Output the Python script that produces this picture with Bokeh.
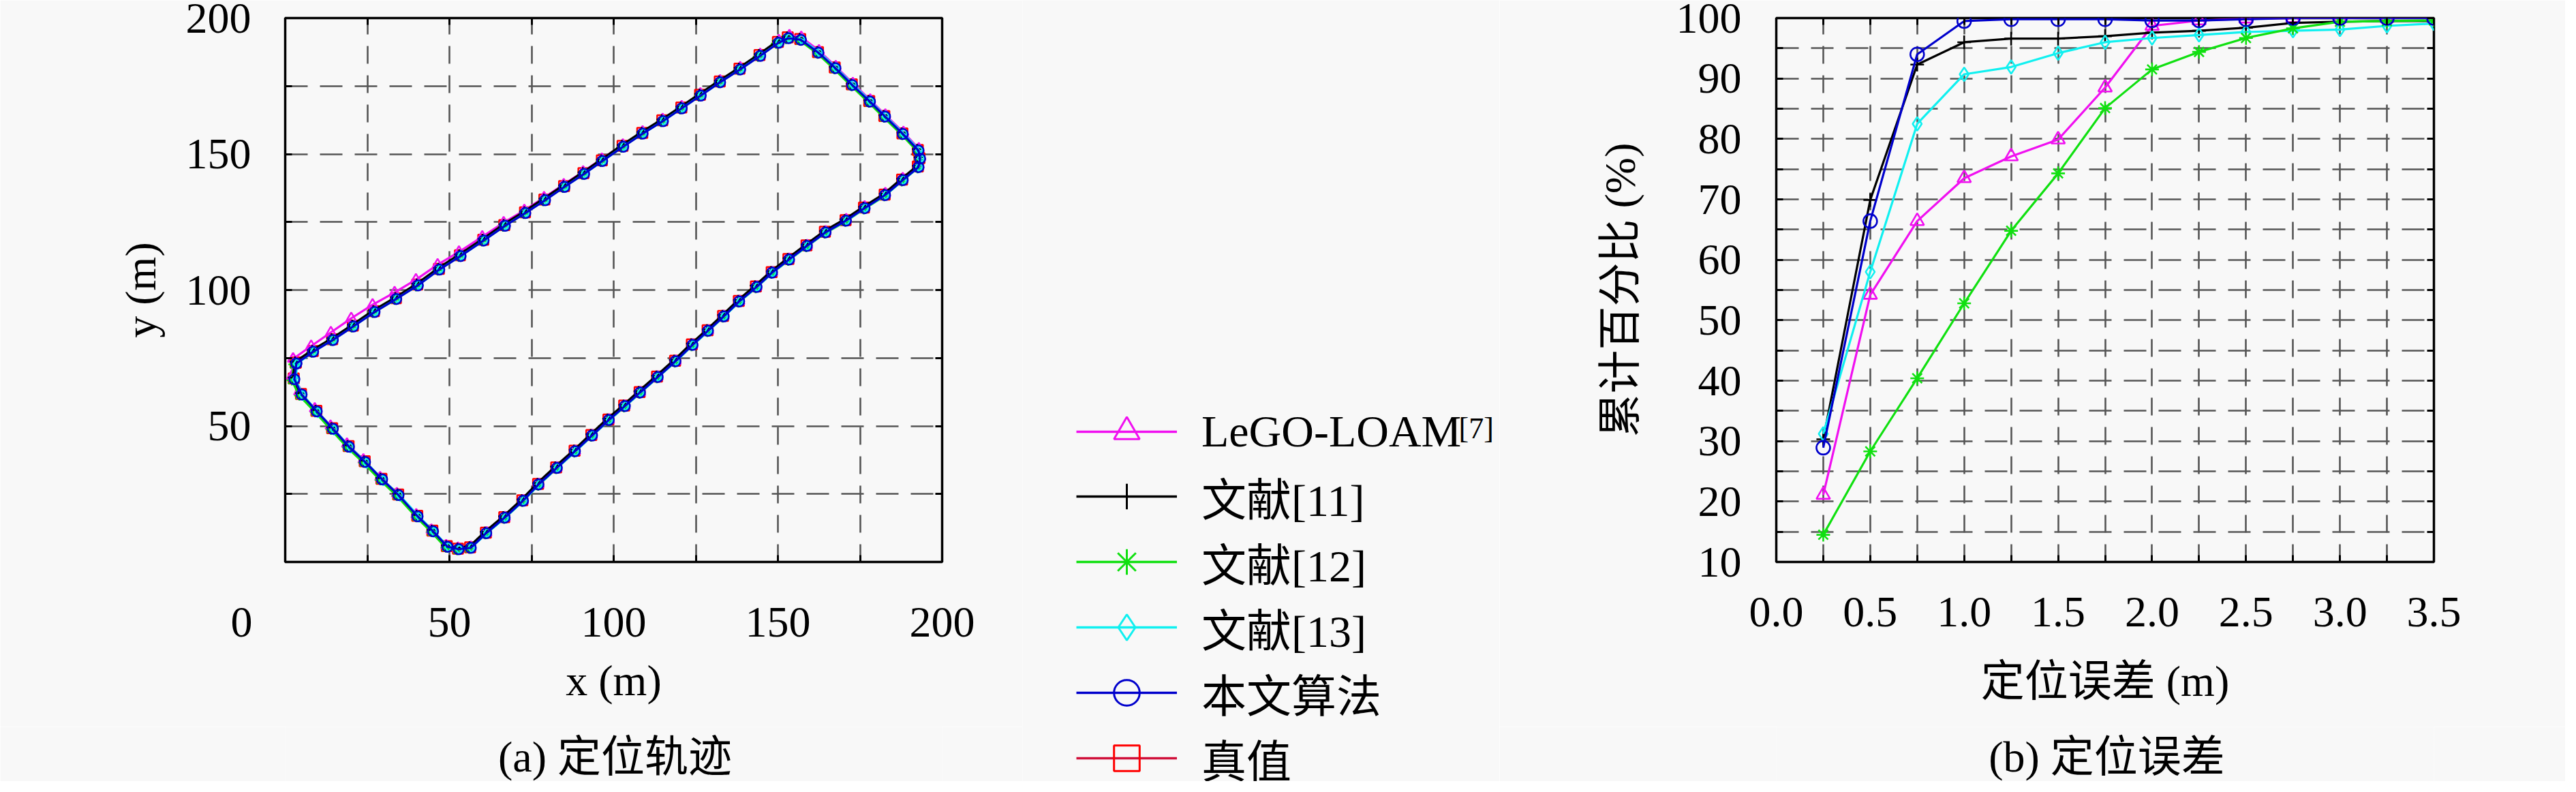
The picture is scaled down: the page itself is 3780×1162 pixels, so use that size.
from bokeh.plotting import figure
from bokeh.models import Range1d, FixedTicker, LinearAxis, Label, Legend, LegendItem
from bokeh.layouts import row, column
from bokeh.embed import file_html
from bokeh.resources import INLINE

# ---------------- data: (a) trajectories ----------------
truth_x = [3.2, 2.6, 4.8, 9.5, 14.3, 19.3, 24.2, 29.3, 34.4, 40.2, 44.8, 49.2, 52.6, 56.3, 61.1, 66.7, 72.2, 77.0, 82.5, 88.1,
           93.2, 98.4, 103.2, 107.9, 113.2, 118.7, 123.8, 128.6, 133.3, 138.1, 143.3, 148.1, 153.2, 158.7, 164.3, 170.6, 176.2,
           182.5, 187.8, 192.6, 193.1, 192.6, 187.9, 182.4, 177.8, 172.5, 167.3, 162.2, 156.8, 153.0, 150.0, 144.4, 138.3, 132.3,
           126.3, 120.6, 114.8, 108.7, 102.7, 96.4, 90.8, 84.9, 78.9, 73.0, 66.7, 60.3, 53.2, 46.8, 40.2, 33.7, 27.0, 20.6, 14.3,
           8.4, 3.2]
truth_y = [73.3, 67.5, 61.8, 55.6, 49.2, 42.6, 37.0, 30.6, 24.8, 17.0, 11.5, 5.8, 4.9, 5.4, 10.8, 16.5, 22.7, 28.7, 34.8, 40.9,
           46.7, 52.4, 57.5, 62.5, 68.2, 74.0, 80.0, 85.2, 90.5, 96.0, 101.3, 106.6, 111.4, 116.4, 121.4, 125.7, 130.3, 135.1,
           140.6, 145.4, 148.5, 151.5, 157.6, 164.0, 169.5, 175.6, 181.8, 187.5, 192.3, 192.9, 191.2, 186.4, 181.4, 176.7, 171.8,
           167.1, 162.4, 157.8, 153.0, 147.7, 143.0, 138.2, 133.3, 128.6, 123.9, 118.5, 112.8, 107.8, 102.0, 97.0, 92.2, 86.9,
           81.9, 77.6, 73.3]
lego_x = [2.4, 2.0, 4.2, 9.0, 13.8, 18.8, 23.8, 28.9, 34.0, 39.9, 44.5, 49.0, 52.6, 56.5, 61.3, 66.9, 72.4, 77.2, 82.7, 88.3,
          93.4, 98.6, 103.4, 108.1, 113.4, 118.9, 124.0, 128.8, 133.5, 138.3, 143.5, 148.3, 153.4, 158.9, 164.5, 170.8, 176.4,
          182.7, 188.0, 192.9, 193.4, 192.9, 188.2, 182.7, 178.1, 172.8, 167.6, 162.5, 157.1, 153.5, 150.3, 144.6, 138.5, 132.4,
          126.4, 120.7, 114.9, 108.8, 102.8, 96.4, 90.7, 84.8, 78.8, 72.8, 66.5, 60.0, 52.9, 46.4, 39.8, 33.3, 26.6, 20.1, 13.9,
          7.9, 2.4]
lego_y = [74.7, 68.3, 62.6, 56.4, 50.0, 43.4, 37.6, 31.1, 25.2, 17.4, 11.8, 6.1, 5.1, 5.5, 10.8, 16.4, 22.6, 28.6, 34.7, 40.8,
          46.6, 52.3, 57.4, 62.4, 68.1, 73.9, 79.9, 85.1, 90.4, 95.9, 101.2, 106.5, 111.4, 116.4, 121.5, 125.9, 130.6, 135.5,
          141.0, 145.9, 149.0, 152.0, 158.0, 164.4, 169.9, 176.0, 182.2, 188.0, 193.0, 193.6, 191.8, 186.7, 181.8, 177.0, 172.2,
          167.5, 162.8, 158.2, 153.4, 148.2, 143.5, 138.8, 134.0, 129.3, 124.8, 119.6, 114.0, 109.3, 103.8, 99.1, 94.6, 89.6,
          84.4, 79.4, 74.7]
ref11_x = [3.0, 2.4, 4.6, 9.3, 14.1, 19.0, 24.0, 29.0, 34.2, 40.0, 44.6, 49.0, 52.4, 56.1, 60.8, 66.4, 72.0, 76.8, 82.2, 87.9,
           93.0, 98.1, 103.0, 107.6, 113.0, 118.4, 123.6, 128.4, 133.1, 137.9, 143.0, 147.9, 153.0, 158.5, 164.1, 170.3, 176.0,
           182.3, 187.6, 192.4, 192.9, 192.4, 187.7, 182.2, 177.6, 172.3, 167.1, 162.0, 156.6, 152.8, 149.8, 144.2, 138.1, 132.1,
           126.1, 120.4, 114.6, 108.5, 102.5, 96.2, 90.6, 84.7, 78.7, 72.8, 66.5, 60.1, 53.0, 46.6, 40.0, 33.5, 26.8, 20.4, 14.1,
           8.2, 3.0]
ref11_y = [73.6, 67.8, 62.1, 55.9, 49.5, 42.9, 37.3, 30.9, 25.1, 17.3, 11.8, 6.1, 5.2, 5.7, 11.1, 16.8, 23.0, 29.0, 35.1, 41.2,
           47.0, 52.7, 57.8, 62.8, 68.5, 74.3, 80.3, 85.5, 90.8, 96.3, 101.6, 106.9, 111.7, 116.7, 121.7, 126.0, 130.6, 135.4,
           140.9, 145.7, 148.8, 151.8, 157.9, 164.3, 169.8, 175.9, 182.1, 187.8, 192.6, 193.2, 191.5, 186.7, 181.7, 177.0, 172.1,
           167.4, 162.7, 158.1, 153.3, 148.0, 143.3, 138.5, 133.6, 128.9, 124.2, 118.8, 113.1, 108.1, 102.3, 97.3, 92.5, 87.2,
           82.2, 77.9, 73.6]
ref12_x = [2.6, 2.0, 4.3, 9.1, 13.9, 18.9, 23.8, 28.9, 34.0, 39.9, 44.5, 48.9, 52.3, 56.0, 60.9, 66.6, 72.1, 77.0, 82.4, 88.0,
           93.1, 98.3, 103.1, 107.8, 113.1, 118.6, 123.7, 128.5, 133.2, 138.0, 143.2, 148.0, 153.1, 158.6, 164.2, 170.5, 176.1,
           182.4, 187.7, 192.5, 193.0, 192.5, 187.8, 182.3, 177.7, 172.4, 167.2, 162.1, 156.7, 152.4, 149.4, 143.9, 137.9, 131.9,
           125.9, 120.2, 114.4, 108.3, 102.3, 96.0, 90.4, 84.5, 78.5, 72.6, 66.3, 59.9, 52.8, 46.4, 39.8, 33.3, 26.6, 20.2, 13.9,
           8.0, 2.6]
ref12_y = [72.6, 66.8, 61.2, 55.1, 48.7, 42.1, 36.5, 30.1, 24.3, 16.5, 11.0, 5.3, 4.4, 4.9, 10.2, 15.9, 22.1, 28.1, 34.2, 40.3,
           46.1, 51.8, 56.9, 61.9, 67.6, 73.4, 79.4, 84.6, 89.9, 95.4, 100.7, 106.0, 110.8, 115.8, 120.8, 125.1, 129.7, 134.5,
           140.0, 144.8, 147.9, 150.9, 157.0, 163.4, 168.9, 175.0, 181.2, 186.9, 191.7, 192.3, 190.6, 185.8, 180.8, 176.1, 171.2,
           166.5, 161.8, 157.2, 152.4, 147.1, 142.4, 137.6, 132.7, 128.0, 123.3, 117.9, 112.2, 107.2, 101.4, 96.4, 91.6, 86.3,
           81.3, 77.0, 72.6]
ref13_x = [3.6, 3.2, 5.4, 10.0, 14.9, 19.9, 24.8, 29.9, 35.0, 40.8, 45.3, 49.7, 53.0, 56.7, 61.5, 67.1, 72.6, 77.4, 82.9, 88.5,
           93.6, 98.8, 103.6, 108.3, 113.6, 119.1, 124.2, 129.0, 133.7, 138.5, 143.7, 148.5, 153.6, 159.1, 164.7, 171.0, 176.6,
           182.9, 188.2, 193.0, 193.5, 193.0, 188.3, 182.8, 178.2, 172.9, 167.7, 162.6, 157.2, 153.4, 150.4, 144.8, 138.7, 132.7,
           126.7, 121.0, 115.2, 109.1, 103.1, 96.8, 91.2, 85.3, 79.3, 73.4, 67.1, 60.7, 53.6, 47.2, 40.6, 34.1, 27.4, 21.0, 14.7,
           8.8, 3.6]
ref13_y = [72.9, 67.0, 61.3, 55.0, 48.6, 42.0, 36.4, 30.0, 24.3, 16.6, 11.1, 5.5, 4.7, 5.3, 10.7, 16.4, 22.6, 28.6, 34.7, 40.8,
           46.6, 52.3, 57.4, 62.4, 68.1, 73.9, 79.9, 85.1, 90.4, 95.9, 101.2, 106.5, 111.3, 116.3, 121.3, 125.6, 130.2, 135.0,
           140.5, 145.3, 148.4, 151.4, 157.5, 163.9, 169.4, 175.5, 181.7, 187.4, 192.2, 192.8, 191.1, 186.3, 181.3, 176.6, 171.7,
           167.0, 162.3, 157.7, 152.9, 147.6, 142.9, 138.1, 133.2, 128.5, 123.8, 118.4, 112.7, 107.7, 101.9, 96.9, 92.1, 86.8,
           81.8, 77.5, 72.9]
ours_x = [3.4, 2.8, 5.0, 9.6, 14.5, 19.4, 24.3, 29.5, 34.5, 40.3, 45.0, 49.4, 52.8, 56.5, 61.2, 66.8, 72.4, 77.1, 82.7, 88.2,
          93.4, 98.5, 103.4, 108.0, 113.4, 118.8, 124.0, 128.7, 133.5, 138.2, 143.5, 148.2, 153.4, 158.8, 164.5, 170.7, 176.4,
          182.6, 188.0, 192.8, 193.3, 192.8, 188.0, 182.6, 178.0, 172.6, 167.5, 162.3, 157.0, 153.2, 150.2, 144.6, 138.5, 132.4,
          126.5, 120.7, 115.0, 108.8, 102.9, 96.5, 91.0, 85.0, 79.1, 73.1, 66.9, 60.4, 53.4, 46.9, 40.4, 33.8, 27.2, 20.7, 14.5,
          8.5, 3.4]
ours_y = [73.0, 67.2, 61.6, 55.4, 49.0, 42.4, 36.8, 30.4, 24.6, 16.8, 11.3, 5.6, 4.7, 5.2, 10.6, 16.3, 22.5, 28.5, 34.6, 40.7,
          46.5, 52.2, 57.3, 62.3, 68.0, 73.8, 79.8, 85.0, 90.3, 95.8, 101.1, 106.4, 111.2, 116.2, 121.2, 125.5, 130.1, 134.9,
          140.4, 145.2, 148.3, 151.3, 157.4, 163.8, 169.3, 175.4, 181.6, 187.3, 192.0, 192.6, 190.9, 186.1, 181.1, 176.4, 171.5,
          166.8, 162.1, 157.5, 152.7, 147.4, 142.7, 137.9, 133.0, 128.3, 123.6, 118.2, 112.5, 107.5, 101.7, 96.7, 91.9, 86.6,
          81.6, 77.3, 73.0]

# ---------------- data: (b) cumulative error ----------------
err_x = [0.25, 0.5, 0.75, 1.0, 1.25, 1.5, 1.75, 2.0, 2.25, 2.5, 2.75, 3.0, 3.25, 3.5]
lego_cdf = [21.1, 54.2, 66.4, 73.5, 77.1, 79.9, 88.5, 98.7, 99.6, 99.9, 100.0, 100.0, 100.0, 100.0]
ref11_cdf = [30.3, 69.9, 92.3, 96.0, 96.6, 96.6, 97.0, 97.6, 97.9, 98.4, 99.2, 99.4, 99.5, 99.5]
ref12_cdf = [14.5, 28.3, 40.4, 52.8, 64.8, 74.3, 85.1, 91.5, 94.4, 96.7, 98.3, 99.4, 99.5, 99.6]
ref13_cdf = [31.2, 58.0, 82.5, 90.7, 91.9, 94.2, 96.0, 96.7, 97.2, 97.7, 97.9, 98.1, 98.7, 99.1]
ours_cdf = [28.9, 66.4, 94.0, 99.5, 99.8, 99.8, 99.8, 99.6, 99.6, 99.8, 100.0, 100.0, 100.0, 100.0]

series_names = ["LeGO-LOAM", "文献[11]", "文献[12]", "文献[13]", "本文算法", "真值"]

# ticks and tick labels
NB = "\u00a0"
traj_ticks = [0, 25, 50, 75, 100, 125, 150, 175, 200]
traj_x_labels = ["0" + NB * 8, "", "50", "", "100", "", "150", "", "200"]
traj_y_labels = ["", "", "50", "", "100", "", "150", "", "200"]
err_ticks = [0.0, 0.25, 0.5, 0.75, 1.0, 1.25, 1.5, 1.75, 2.0, 2.25, 2.5, 2.75, 3.0, 3.25, 3.5]
err_tick_labels = ["0.0", "", "0.5", "", "1.0", "", "1.5", "", "2.0", "", "2.5", "", "3.0", "", "3.5"]
pct_ticks = [10, 15, 20, 25, 30, 35, 40, 45, 50, 55, 60, 65, 70, 75, 80, 85, 90, 95, 100]
pct_tick_labels = ["10", "", "20", "", "30", "", "40", "", "50", "", "60", "", "70", "", "80", "", "90", "", "100"]

# ---------------- styles ----------------
SERIF = "Liberation Serif, Noto Sans CJK SC"
FS = "64px"
BG = "#F8F8F8"
TOP_H = 1066     # height of the chart canvases
CAP_H = 80       # height of the caption strips below them
styles = {
    "LeGO-LOAM": ("#F010F0", "#F010F0", "triangle"),
    "文献[11]": ("#000000", "#000000", "cross"),
    "文献[12]": ("#10E010", "#10E010", "asterisk"),
    "文献[13]": ("#10F0F0", "#10F0F0", "diamond"),
    "本文算法": ("#0000CC", "#0000CC", "circle"),
    "真值": ("#D0103A", "#FF0000", "square"),
}


def make_fig(width, xr, yr, mbl, mbr):
    p = figure(width=width, height=TOP_H, x_range=Range1d(*xr), y_range=Range1d(*yr),
               output_backend="svg", toolbar_location=None, title_location=None,
               min_border_left=mbl, min_border_right=mbr, min_border_top=26, min_border_bottom=TOP_H - 824)
    p.background_fill_color = BG
    p.border_fill_color = BG
    p.outline_line_color = "black"
    p.outline_line_width = 3.5
    return p


def caption_strip(width, mbl, mbr, text, cx):
    c = figure(width=width, height=CAP_H, x_range=Range1d(0, 1), y_range=Range1d(0, 1),
               output_backend="svg", toolbar_location=None, title_location=None,
               x_axis_type=None, y_axis_type=None,
               min_border_left=mbl, min_border_right=mbr, min_border_top=0, min_border_bottom=0)
    if "frame_align" in c.properties():
        c.frame_align = False
    c.background_fill_color = BG
    c.border_fill_color = BG
    c.outline_line_color = None
    c.add_layout(Label(x=cx, y=36, x_units="screen", y_units="screen", text=text,
                       text_font=SERIF, text_font_size=FS, text_align="center",
                       text_baseline="alphabetic", text_color="black"))
    return c


def frame_axes(p, xt, xl, yt, yl, xlabel, ylabel, tick_standoff, xlab_standoff, ylab_standoff):
    top = LinearAxis()
    right = LinearAxis()
    p.add_layout(top, "above")
    p.add_layout(right, "right")
    for ax in list(p.xaxis):
        ax.ticker = FixedTicker(ticks=xt)
    for ax in list(p.yaxis):
        ax.ticker = FixedTicker(ticks=yt)
    bottom = p.below[0]
    left = p.left[0]
    bottom.major_label_overrides = dict(zip(xt, xl))
    left.major_label_overrides = dict(zip(yt, yl))
    top.major_label_overrides = {t: "" for t in xt}
    right.major_label_overrides = {t: "" for t in yt}
    for ax in list(p.xaxis) + list(p.yaxis):
        ax.axis_line_color = None
        ax.major_tick_in = 10
        ax.major_tick_out = 0
        ax.major_tick_line_width = 3
        ax.major_tick_line_color = "black"
        ax.minor_tick_line_color = None
        ax.major_label_text_font = SERIF
        ax.major_label_text_font_size = FS
        ax.major_label_text_color = "black"
    for ax in (top, right):
        ax.major_label_text_font_size = "1px"
        ax.major_label_standoff = 0
    bottom.major_label_standoff = tick_standoff
    left.major_label_standoff = 50
    for ax, txt in ((bottom, xlabel), (left, ylabel)):
        ax.axis_label = txt
        ax.axis_label_text_font = SERIF
        ax.axis_label_text_font_size = FS
        ax.axis_label_text_font_style = "normal"
        ax.axis_label_text_color = "black"
    bottom.axis_label_standoff = xlab_standoff
    left.axis_label_standoff = ylab_standoff
    p.xgrid.ticker = FixedTicker(ticks=xt)
    p.ygrid.ticker = FixedTicker(ticks=yt)
    for g in (p.xgrid, p.ygrid):
        g.grid_line_color = "#555555"
        g.grid_line_width = 2.6
    p.xgrid.grid_line_dash = "26 17"
    p.ygrid.grid_line_dash = "33 18"


# ---------------- (a) trajectory ----------------
p1 = make_fig(1500, (0, 200), (0, 200), 418, 118)
frame_axes(p1, traj_ticks, traj_x_labels, traj_ticks, traj_y_labels, "x (m)", "y (m)", 52, 12, 28)

traj = {
    "真值": (truth_x, truth_y),
    "LeGO-LOAM": (lego_x, lego_y),
    "文献[12]": (ref12_x, ref12_y),
    "文献[11]": (ref11_x, ref11_y),
    "文献[13]": (ref13_x, ref13_y),
    "本文算法": (ours_x, ours_y),
}
for name, (xs, ys) in traj.items():
    lc, mc, mk = styles[name]
    p1.line(xs, ys, line_color=lc, line_width=3.2)
    p1.scatter(xs, ys, marker=mk, size=15, line_color=mc, fill_alpha=0, line_width=2.5)
c1 = caption_strip(1500, 418, 118, "(a) 定位轨迹", 484)

# ---------------- legend panel ----------------
pl = figure(width=700, height=TOP_H + CAP_H, x_range=Range1d(0, 1), y_range=Range1d(0, 1),
            output_backend="svg", toolbar_location=None, title_location=None,
            x_axis_type=None, y_axis_type=None, min_border=0)
aligned_off = "frame_align" in pl.properties()
if aligned_off:
    pl.frame_align = False
pl.background_fill_color = BG
pl.border_fill_color = BG
pl.outline_line_color = None
items = []
for name in series_names:
    lc, mc, mk = styles[name]
    xs, ys = traj[name]
    # renderers carry the series data but lie outside this panel's range; only their legend samples show
    r_l = pl.line(xs, ys, line_color=lc, line_width=3.6)
    r_m = pl.scatter(xs, ys, marker=mk, line_color=mc, fill_alpha=0, line_width=3)
    items.append(LegendItem(label=name, renderers=[r_l, r_m]))
frame_bottom = 1146 if aligned_off else 824
legend = Legend(items=items, location=(79, frame_bottom - 1160), orientation="vertical",
                glyph_width=148, glyph_height=94, label_height=94, label_width=20,
                spacing=0, padding=0, margin=0, label_standoff=36,
                border_line_color=None, background_fill_alpha=0,
                label_text_font=SERIF, label_text_font_size="66px", label_text_color="black")
pl.add_layout(legend)
pl.add_layout(Label(x=640, y=frame_bottom - 628, x_units="screen", y_units="screen", text="[7]",
                    text_font=SERIF, text_font_size="44px", text_align="left",
                    text_baseline="alphabetic", text_color="black"))

# ---------------- (b) cumulative error ----------------
p2 = make_fig(1564, (0, 3.5), (10, 100), 406, 193)
frame_axes(p2, err_ticks, err_tick_labels, pct_ticks, pct_tick_labels, "定位误差 (m)", "累计百分比 (%)", 52, 42, 44)
p2.left[0].major_label_standoff = 51

cdf = [
    ("LeGO-LOAM", lego_cdf),
    ("文献[11]", ref11_cdf),
    ("文献[13]", ref13_cdf),
    ("文献[12]", ref12_cdf),
    ("本文算法", ours_cdf),
]
for name, ys in cdf:
    lc, mc, mk = styles[name]
    p2.line(err_x, ys, line_color=lc, line_width=3.2)
    p2.scatter(err_x, ys, marker=mk, size=20, line_color=mc, fill_alpha=0, line_width=2.6)
c2 = caption_strip(1564, 406, 193, "(b) 定位误差", 485)

layout = row(column(p1, c1), pl, column(p2, c2))
open("out.html", "w").write(file_html(layout, INLINE))
